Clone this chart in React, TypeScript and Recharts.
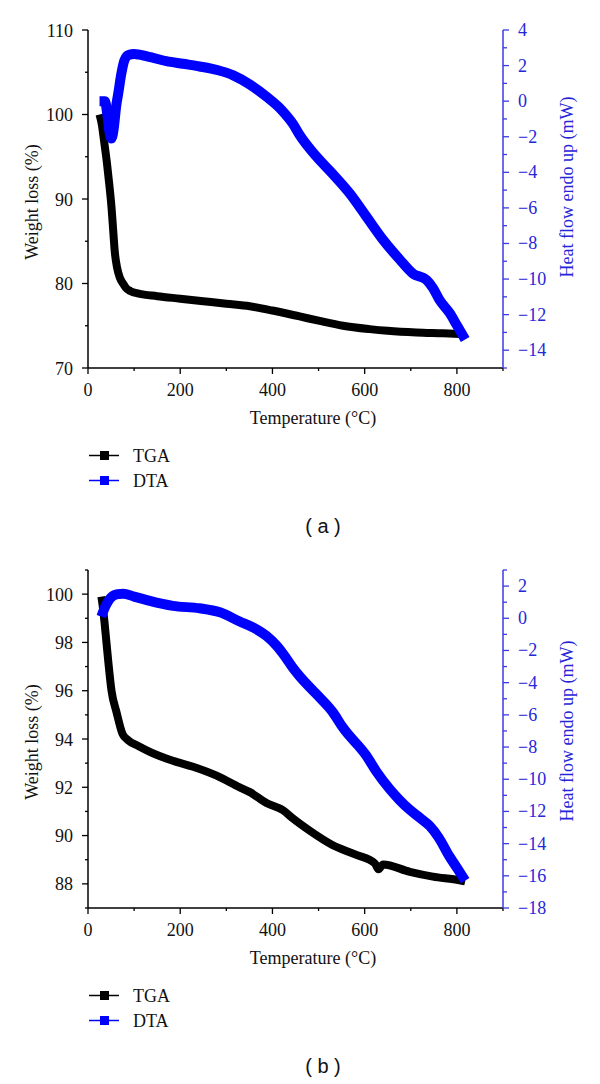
import React from 'react';
import { LineChart, Line, XAxis, YAxis, Legend } from 'recharts';

// ---------- data ----------
const temperatureTicks = [0, 100, 200, 300, 400, 500, 600, 700, 800, 900];

// panel (a)
const tgaATemp = [25, 30, 35, 41, 46, 51, 55, 58, 63, 69, 76, 82, 92, 110, 150, 200, 250, 300, 351, 400, 459, 500, 553, 611, 650, 712, 770, 818];
const tgaAWeight = [100, 98.8, 96.8, 94.3, 91.8, 89.0, 86.0, 83.8, 81.9, 80.7, 80.0, 79.5, 79.1, 78.8, 78.5, 78.2, 77.9, 77.6, 77.3, 76.8, 76.1, 75.6, 75.0, 74.6, 74.4, 74.2, 74.1, 74.0];
const dtaATemp = [25, 37, 42, 47, 51, 56, 61, 66, 72, 79, 88, 100, 130, 170, 206, 242, 280, 315, 350, 387, 420, 445, 459, 495, 531, 568, 604, 640, 676, 705, 734, 748, 763, 784, 800, 818];
const dtaAHeat = [0, 0, -0.8, -1.8, -2.1, -1.5, -0.3, 0.5, 1.5, 2.3, 2.6, 2.65, 2.5, 2.25, 2.1, 1.95, 1.75, 1.45, 0.95, 0.25, -0.5, -1.3, -1.9, -3.1, -4.1, -5.2, -6.5, -7.8, -8.9, -9.7, -10.05, -10.5, -11.2, -11.9, -12.6, -13.4];
const weightTicksA = [70, 75, 80, 85, 90, 95, 100, 105, 110];
const heatTicksA = [-15, -14, -13, -12, -11, -10, -9, -8, -7, -6, -5, -4, -3, -2, -1, 0, 1, 2, 3, 4];

// panel (b)
const tgaBTemp = [29, 32, 36, 43, 51, 62, 75, 87, 110, 134, 184, 228, 279, 329, 351, 387, 423, 445, 481, 531, 582, 622, 630, 640, 698, 748, 806, 818];
const tgaBWeight = [99.9, 99.5, 98.8, 97.4, 96.0, 95.1, 94.2, 93.95, 93.7, 93.47, 93.1, 92.85, 92.48, 92.0, 91.8, 91.35, 91.05, 90.7, 90.2, 89.6, 89.2, 88.85, 88.6, 88.8, 88.5, 88.3, 88.15, 88.1];
const dtaBTemp = [29, 34, 40, 47, 54, 65, 76, 100, 134, 184, 242, 286, 329, 360, 387, 409, 423, 445, 459, 495, 531, 553, 604, 625, 654, 676, 698, 720, 741, 760, 784, 800, 818];
const dtaBHeat = [0.1, 0.5, 0.87, 1.2, 1.39, 1.5, 1.53, 1.35, 1.08, 0.77, 0.62, 0.37, -0.2, -0.6, -1.1, -1.7, -2.2, -3.1, -3.6, -4.7, -5.84, -6.8, -8.55, -9.5, -10.6, -11.3, -11.9, -12.4, -12.9, -13.6, -14.8, -15.5, -16.3];
const weightTicksB = [87, 88, 89, 90, 91, 92, 93, 94, 95, 96, 97, 98, 99, 100, 101];
const heatTicksB = [-18, -17, -16, -15, -14, -13, -12, -11, -10, -9, -8, -7, -6, -5, -4, -3, -2, -1, 0, 1, 2, 3];

const seriesNames = ['TGA', 'DTA'];
const captions = ['( a )', '( b )'];

// ---------- style ----------
const SERIF = '"Liberation Serif", "Times New Roman", serif';
const SANS = '"Liberation Sans", Arial, sans-serif';
const BLUE = '#0000ff';
const BLUE_TEXT = '#2626d9';
const BLUE_AXIS = '#3a3ae6';

const zip = (xs: number[], ys: number[]) => xs.map((t, i) => ({ t, v: ys[i] }));
const fmt = (v: number) => (v < 0 ? '\u2212' + Math.abs(v) : String(v));

const BottomTick = (props: any) => {
  const { x, y, payload } = props;
  const v = payload.value;
  const major = v % 200 === 0;
  return (
    <g>
      <line x1={x} x2={x} y1={y} y2={y + (major ? 6 : 3)} stroke="#000" strokeWidth={1.3} />
      {major && (
        <text x={x} y={y + 28} textAnchor="middle" fontFamily={SERIF} fontSize={18} fill="#111">
          {v}
        </text>
      )}
    </g>
  );
};

const TopTick = (props: any) => {
  const { x, y, payload } = props;
  const major = payload.value % 200 === 0;
  return <line x1={x} x2={x} y1={y} y2={y - (major ? 7 : 4)} stroke="#000" strokeWidth={1.3} />;
};

const makeLeftTick = (step: number) => (props: any) => {
  const { x, y, payload } = props;
  const v = payload.value;
  const major = v % step === 0;
  return (
    <g>
      <line x1={x} x2={x - (major ? 6 : 3)} y1={y} y2={y} stroke="#000" strokeWidth={1.3} />
      {major && (
        <text x={x - 15} y={y + 6.5} textAnchor="end" fontFamily={SERIF} fontSize={18} fill="#111">
          {fmt(v)}
        </text>
      )}
    </g>
  );
};

const RightTick = (props: any) => {
  const { x, y, payload } = props;
  const v = payload.value;
  const major = Math.abs(v) % 2 === 0;
  return (
    <g>
      <line x1={x} x2={x + (major ? 6 : 4)} y1={y} y2={y} stroke={BLUE_AXIS} strokeWidth={1.3} />
      {major && (
        <text x={x + 15} y={y + 6} textAnchor="start" fontFamily={SERIF} fontSize={18} fill={BLUE_TEXT}>
          {fmt(v)}
        </text>
      )}
    </g>
  );
};

const LegendBox = (props: any) => {
  const items = [...(props.payload || [])].sort(
    (a: any, b: any) => seriesNames.indexOf(a.value) - seriesNames.indexOf(b.value)
  );
  return (
    <svg width={140} height={60} style={{ display: 'block' }}>
      {items.map((it: any, i: number) => {
        const cy = 15.5 + i * 25;
        return (
          <g key={i}>
            <line x1={9} x2={39} y1={cy} y2={cy} stroke={it.color} strokeWidth={1.5} />
            <rect x={20} y={cy - 4.5} width={9} height={9} fill={it.color} />
            <text x={53} y={cy + 6.5} fontFamily={SERIF} fontSize={18} fill="#111">
              {it.value}
            </text>
          </g>
        );
      })}
    </svg>
  );
};

type PanelProps = {
  tga: { t: number; v: number }[];
  dta: { t: number; v: number }[];
  leftDomain: [number, number];
  leftTicks: number[];
  leftStep: number;
  rightDomain: [number, number];
  rightTicks: number[];
  rightTitleY: number;
  caption: string;
};

const Panel = (p: PanelProps) => {
  const LeftTick = makeLeftTick(p.leftStep);
  return (
    <div style={{ position: 'relative', width: 600, height: 540 }}>
      <LineChart width={600} height={540} margin={{ top: 30, right: 37, bottom: 142, left: 28 }}>
        <XAxis
          xAxisId="b"
          type="number"
          dataKey="t"
          domain={[0, 900]}
          allowDataOverflow
          ticks={temperatureTicks}
          interval={0}
          height={30}
          tickSize={0}
          tickMargin={0}
          tickLine={false}
          tick={BottomTick}
          axisLine={{ stroke: '#000', strokeWidth: 1.5 }}
          label={() => (
            <text x={313} y={424} textAnchor="middle" fontFamily={SERIF} fontSize={18} fill="#111">
              Temperature (°C)
            </text>
          )}
        />
        <XAxis
          xAxisId="t"
          orientation="top"
          type="number"
          dataKey="t"
          domain={[0, 900]}
          allowDataOverflow
          ticks={temperatureTicks}
          interval={0}
          height={0}
          tickSize={0}
          tickMargin={0}
          tickLine={false}
          tick={TopTick}
          axisLine={{ stroke: '#000', strokeWidth: 1.5 }}
        />
        <YAxis
          yAxisId="L"
          type="number"
          domain={p.leftDomain}
          allowDataOverflow
          ticks={p.leftTicks}
          interval={0}
          width={60}
          tickSize={0}
          tickMargin={0}
          tickLine={false}
          tick={LeftTick}
          axisLine={{ stroke: '#000', strokeWidth: 1.5 }}
          label={() => (
            <text
              transform="translate(37.5,202) rotate(-90)"
              textAnchor="middle"
              fontFamily={SERIF}
              fontSize={18}
              fill="#111"
            >
              Weight loss (%)
            </text>
          )}
        />
        <YAxis
          yAxisId="R"
          orientation="right"
          type="number"
          domain={p.rightDomain}
          allowDataOverflow
          ticks={p.rightTicks}
          interval={0}
          width={60}
          tickSize={0}
          tickMargin={0}
          tickLine={false}
          tick={RightTick}
          axisLine={{ stroke: BLUE_AXIS, strokeWidth: 1.5 }}
          label={() => (
            <text
              transform={`translate(573,${p.rightTitleY}) rotate(-90)`}
              textAnchor="middle"
              fontFamily={SERIF}
              fontSize={18}
              fill={BLUE_TEXT}
            >
              Heat flow endo up (mW)
            </text>
          )}
        />
        <Line
          name={seriesNames[0]}
          data={p.tga}
          xAxisId="b"
          yAxisId="L"
          dataKey="v"
          type="monotone"
          stroke="#000"
          strokeWidth={8}
          strokeLinejoin="round"
          dot={false}
          isAnimationActive={false}
        />
        <Line
          name={seriesNames[1]}
          data={p.dta}
          xAxisId="b"
          yAxisId="R"
          dataKey="v"
          type="monotone"
          stroke={BLUE}
          strokeWidth={10}
          strokeLinejoin="round"
          dot={false}
          isAnimationActive={false}
        />
        <Legend
          layout="horizontal"
          verticalAlign="middle"
          align="center"
          wrapperStyle={{ left: 80, top: 440, width: 140, height: 60 }}
          content={(lp: any) => <LegendBox payload={lp.payload} />}
        />
      </LineChart>
      <svg width={600} height={50} style={{ position: 'absolute', left: 0, top: 500 }}>
        <text x={323} y={33} textAnchor="middle" fontFamily={SANS} fontSize={20} fill="#111">
          {p.caption}
        </text>
      </svg>
    </div>
  );
};

export default function App() {
  return (
    <div style={{ position: 'absolute', left: 0, top: 0, width: 600, height: 1084, background: '#fff' }}>
      <div style={{ position: 'absolute', left: 0, top: 0 }}>
        <Panel
          tga={zip(tgaATemp, tgaAWeight)}
          dta={zip(dtaATemp, dtaAHeat)}
          leftDomain={[70, 110]}
          leftTicks={weightTicksA}
          leftStep={10}
          rightDomain={[-15, 4]}
          rightTicks={heatTicksA}
          rightTitleY={187}
          caption={captions[0]}
        />
      </div>
      <div style={{ position: 'absolute', left: 0, top: 540 }}>
        <Panel
          tga={zip(tgaBTemp, tgaBWeight)}
          dta={zip(dtaBTemp, dtaBHeat)}
          leftDomain={[87, 101]}
          leftTicks={weightTicksB}
          leftStep={2}
          rightDomain={[-18, 3]}
          rightTicks={heatTicksB}
          rightTitleY={191}
          caption={captions[1]}
        />
      </div>
    </div>
  );
}
